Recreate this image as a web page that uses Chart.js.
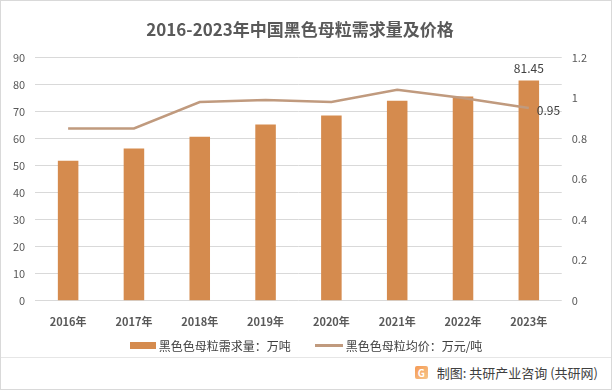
<!DOCTYPE html>
<html>
<head>
<meta charset="utf-8">
<script src="https://cdn.jsdelivr.net/npm/chart.js@4"></script>
<style>
  html, body { margin: 0; padding: 0; background: #fff; }
  .frame {
    position: relative; width: 610px; height: 388px;
    border: 1px solid #d9d9d9; background: #fff;
    font-family: "Noto Sans CJK SC", sans-serif;
  }
  .chart-box { position: absolute; left: 0; top: 0; width: 610px; height: 356px; }
  .legend {
    position: absolute; left: 0; top: 336px; width: 610px; height: 16px;
    display: flex; justify-content: center; align-items: center;
    font-size: 12px; color: #404040;
  }
  .legend .item { display: flex; align-items: center; margin: 0 12px; }
  .legend .sw-bar { width: 26px; height: 7px; margin-right: 3px; }
  .legend .sw-line { width: 28px; height: 3px; margin-right: 3px; }
  .footer-line { position: absolute; left: 0; top: 356px; width: 610px; border-top: 1px solid #e6e6e6; }
  .footer {
    position: absolute; right: 13px; top: 362px; font-size: 13px; color: #404040;
    display: flex; align-items: center; white-space: pre;
  }
  .logo {
    width: 13px; height: 13px; margin-right: 9px; border-radius: 2px;
    background: linear-gradient(135deg, #f59a55, #f6c58a);
    color: #fff; font-size: 10px; line-height: 13px; text-align: center; font-weight: bold;
  }
</style>
</head>
<body>
<div class="frame">
  <div class="chart-box"><canvas id="chart"></canvas></div>
  <div class="legend" id="legend"></div>
  <div class="footer-line"></div>
  <div class="footer"><span class="logo">G</span>制图: 共研产业咨询 (共研网)</div>
</div>
<script>
const years = ["2016年", "2017年", "2018年", "2019年", "2020年", "2021年", "2022年", "2023年"];
const demand = [51.8, 56.3, 60.7, 65.2, 68.5, 74.0, 75.5, 81.45];
const price = [0.85, 0.85, 0.98, 0.99, 0.98, 1.04, 1.0, 0.95];
const seriesNames = ["黑色色母粒需求量：万吨", "黑色色母粒均价：万元/吨"];

const barColor = "#d58b4e";
const lineColor = "#c09a7e";
const textColor = "#595959";
const font = "'Noto Sans CJK SC', sans-serif";

// only the last point carries a value label, like the original
const lastLabels = {
  id: "lastLabels",
  afterDatasetsDraw(chart) {
    const { ctx } = chart;
    const n = years.length - 1;
    ctx.save();
    ctx.font = "12px " + font;
    ctx.fillStyle = "#404040";
    const bar = chart.getDatasetMeta(0).data[n];
    ctx.textAlign = "center";
    ctx.textBaseline = "bottom";
    ctx.fillText(String(demand[n]), bar.x, bar.y - 6);
    const pt = chart.getDatasetMeta(1).data[n];
    ctx.textAlign = "left";
    ctx.textBaseline = "middle";
    ctx.fillText(String(price[n]), pt.x + 8, pt.y + 2);
    ctx.restore();
  }
};

const chart = new Chart(document.getElementById("chart"), {
  data: {
    labels: years,
    datasets: [
      {
        type: "bar",
        label: seriesNames[0],
        data: demand,
        backgroundColor: barColor,
        barPercentage: 0.6,
        categoryPercentage: 0.52,
        yAxisID: "y",
        order: 2,
      },
      {
        type: "line",
        label: seriesNames[1],
        data: price,
        borderColor: lineColor,
        backgroundColor: lineColor,
        borderWidth: 2.5,
        pointRadius: 0,
        tension: 0,
        yAxisID: "y1",
        order: 1,
      },
    ],
  },
  options: {
    responsive: true,
    maintainAspectRatio: false,
    animation: false,
    layout: { padding: { left: 2, right: 14, top: 6, bottom: 15 } },
    plugins: {
      title: {
        display: true,
        text: "2016-2023年中国黑色母粒需求量及价格",
        color: textColor,
        font: { size: 17, weight: "bold", family: font },
        padding: { top: 12, bottom: 18 },
      },
      legend: { display: false },
      tooltip: { enabled: false },
    },
    scales: {
      x: {
        grid: { display: false, drawTicks: false },
        border: { display: false },
        ticks: { color: textColor, padding: 14, font: { size: 11, weight: "bold", family: font } },
      },
      y: {
        position: "left",
        min: 0,
        max: 90,
        ticks: { stepSize: 10, color: textColor, font: { size: 11, family: font }, padding: 10 },
        grid: { color: "#d9d9d9", drawTicks: false },
        border: { display: false },
      },
      y1: {
        position: "right",
        min: 0,
        max: 1.2,
        ticks: {
          stepSize: 0.2,
          color: textColor,
          font: { size: 11, family: font },
          padding: 10,
          callback: (v) => String(Number(v.toFixed(1))),
        },
        grid: { display: false, drawTicks: false },
        border: { display: false },
      },
    },
  },
  plugins: [lastLabels],
});

// legend built from the chart's own datasets
const legend = document.getElementById("legend");
chart.data.datasets.forEach((ds) => {
  const item = document.createElement("div");
  item.className = "item";
  const sw = document.createElement("span");
  sw.className = ds.type === "bar" ? "sw-bar" : "sw-line";
  sw.style.background = ds.type === "bar" ? ds.backgroundColor : ds.borderColor;
  const label = document.createElement("span");
  label.textContent = ds.label;
  item.append(sw, label);
  legend.append(item);
});
</script>
</body>
</html>
